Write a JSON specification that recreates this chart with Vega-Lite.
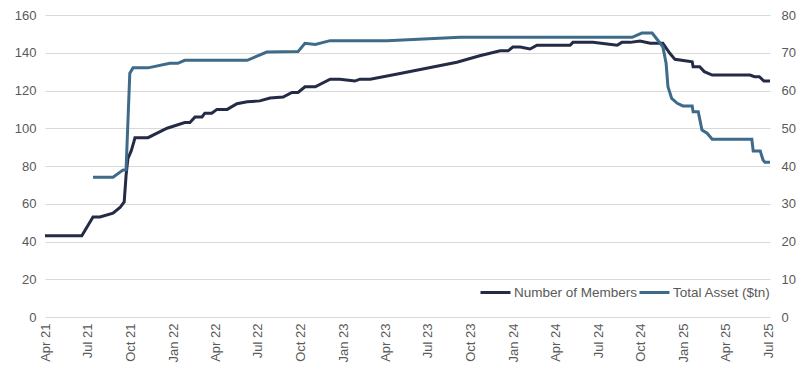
{
  "$schema": "https://vega.github.io/schema/vega-lite/v6.json",
  "width": 725,
  "height": 302,
  "autosize": {"type": "none"},
  "padding": {"left": 45, "top": 15, "right": 35, "bottom": 71},
  "background": "white",
  "config": {
    "view": {"stroke": null},
    "font": "Liberation Sans",
    "axis": {"labelFont": "Liberation Sans", "labelFontSize": 13, "labelColor": "#595959", "domain": false, "ticks": false, "title": null, "gridColor": "#D9D9D9", "gridWidth": 1.2},
    "legend": {"labelFont": "Liberation Sans", "labelFontSize": 13.5, "labelColor": "#595959"}
  },
  "data": {"values": [
    {"d": "2021-04-01", "s": "Number of Members", "v": 43},
    {"d": "2021-06-19", "s": "Number of Members", "v": 43},
    {"d": "2021-07-13", "s": "Number of Members", "v": 53},
    {"d": "2021-07-28", "s": "Number of Members", "v": 53},
    {"d": "2021-08-25", "s": "Number of Members", "v": 55},
    {"d": "2021-09-09", "s": "Number of Members", "v": 58},
    {"d": "2021-09-18", "s": "Number of Members", "v": 61},
    {"d": "2021-09-22", "s": "Number of Members", "v": 75},
    {"d": "2021-09-26", "s": "Number of Members", "v": 84},
    {"d": "2021-10-03", "s": "Number of Members", "v": 88},
    {"d": "2021-10-09", "s": "Number of Members", "v": 93},
    {"d": "2021-10-11", "s": "Number of Members", "v": 95},
    {"d": "2021-11-08", "s": "Number of Members", "v": 95},
    {"d": "2021-12-19", "s": "Number of Members", "v": 100},
    {"d": "2022-01-26", "s": "Number of Members", "v": 103},
    {"d": "2022-02-06", "s": "Number of Members", "v": 103},
    {"d": "2022-02-17", "s": "Number of Members", "v": 106},
    {"d": "2022-03-04", "s": "Number of Members", "v": 106},
    {"d": "2022-03-10", "s": "Number of Members", "v": 108},
    {"d": "2022-03-25", "s": "Number of Members", "v": 108},
    {"d": "2022-04-05", "s": "Number of Members", "v": 110},
    {"d": "2022-04-27", "s": "Number of Members", "v": 110},
    {"d": "2022-05-18", "s": "Number of Members", "v": 113},
    {"d": "2022-06-09", "s": "Number of Members", "v": 114},
    {"d": "2022-07-06", "s": "Number of Members", "v": 114.5},
    {"d": "2022-07-28", "s": "Number of Members", "v": 116},
    {"d": "2022-08-25", "s": "Number of Members", "v": 116.5},
    {"d": "2022-09-13", "s": "Number of Members", "v": 119},
    {"d": "2022-09-26", "s": "Number of Members", "v": 119},
    {"d": "2022-10-11", "s": "Number of Members", "v": 122},
    {"d": "2022-11-02", "s": "Number of Members", "v": 122},
    {"d": "2022-12-04", "s": "Number of Members", "v": 126},
    {"d": "2022-12-25", "s": "Number of Members", "v": 126},
    {"d": "2023-01-26", "s": "Number of Members", "v": 125},
    {"d": "2023-02-06", "s": "Number of Members", "v": 126},
    {"d": "2023-02-28", "s": "Number of Members", "v": 126},
    {"d": "2023-05-03", "s": "Number of Members", "v": 129},
    {"d": "2023-09-02", "s": "Number of Members", "v": 135},
    {"d": "2023-10-21", "s": "Number of Members", "v": 138.4},
    {"d": "2023-12-04", "s": "Number of Members", "v": 141},
    {"d": "2023-12-21", "s": "Number of Members", "v": 141},
    {"d": "2023-12-31", "s": "Number of Members", "v": 143},
    {"d": "2024-01-16", "s": "Number of Members", "v": 143},
    {"d": "2024-02-06", "s": "Number of Members", "v": 142},
    {"d": "2024-02-21", "s": "Number of Members", "v": 144},
    {"d": "2024-05-02", "s": "Number of Members", "v": 144},
    {"d": "2024-05-08", "s": "Number of Members", "v": 145.5},
    {"d": "2024-06-20", "s": "Number of Members", "v": 145.5},
    {"d": "2024-08-11", "s": "Number of Members", "v": 144},
    {"d": "2024-08-21", "s": "Number of Members", "v": 145.5},
    {"d": "2024-09-08", "s": "Number of Members", "v": 145.5},
    {"d": "2024-09-29", "s": "Number of Members", "v": 146.2},
    {"d": "2024-10-21", "s": "Number of Members", "v": 145},
    {"d": "2024-11-17", "s": "Number of Members", "v": 145},
    {"d": "2024-12-02", "s": "Number of Members", "v": 139.7},
    {"d": "2024-12-13", "s": "Number of Members", "v": 136.5},
    {"d": "2025-01-19", "s": "Number of Members", "v": 135.2},
    {"d": "2025-01-21", "s": "Number of Members", "v": 132.6},
    {"d": "2025-02-04", "s": "Number of Members", "v": 132.6},
    {"d": "2025-02-14", "s": "Number of Members", "v": 130},
    {"d": "2025-03-03", "s": "Number of Members", "v": 128.2},
    {"d": "2025-05-23", "s": "Number of Members", "v": 128.2},
    {"d": "2025-06-02", "s": "Number of Members", "v": 127.3},
    {"d": "2025-06-12", "s": "Number of Members", "v": 127.3},
    {"d": "2025-06-22", "s": "Number of Members", "v": 125},
    {"d": "2025-07-05", "s": "Number of Members", "v": 125},
    {"d": "2021-07-13", "s": "Total Asset ($tn)", "v": 37},
    {"d": "2021-08-25", "s": "Total Asset ($tn)", "v": 37},
    {"d": "2021-09-15", "s": "Total Asset ($tn)", "v": 38.9},
    {"d": "2021-09-22", "s": "Total Asset ($tn)", "v": 39},
    {"d": "2021-09-30", "s": "Total Asset ($tn)", "v": 64.6},
    {"d": "2021-10-07", "s": "Total Asset ($tn)", "v": 66},
    {"d": "2021-11-08", "s": "Total Asset ($tn)", "v": 66},
    {"d": "2021-12-25", "s": "Total Asset ($tn)", "v": 67.2},
    {"d": "2022-01-11", "s": "Total Asset ($tn)", "v": 67.2},
    {"d": "2022-01-26", "s": "Total Asset ($tn)", "v": 68},
    {"d": "2022-06-09", "s": "Total Asset ($tn)", "v": 68},
    {"d": "2022-07-21", "s": "Total Asset ($tn)", "v": 70.2},
    {"d": "2022-09-26", "s": "Total Asset ($tn)", "v": 70.3},
    {"d": "2022-10-11", "s": "Total Asset ($tn)", "v": 72.5},
    {"d": "2022-11-02", "s": "Total Asset ($tn)", "v": 72.2},
    {"d": "2022-12-04", "s": "Total Asset ($tn)", "v": 73.2},
    {"d": "2023-04-05", "s": "Total Asset ($tn)", "v": 73.2},
    {"d": "2023-09-09", "s": "Total Asset ($tn)", "v": 74.1},
    {"d": "2024-09-12", "s": "Total Asset ($tn)", "v": 74.1},
    {"d": "2024-10-03", "s": "Total Asset ($tn)", "v": 75.2},
    {"d": "2024-10-25", "s": "Total Asset ($tn)", "v": 75.2},
    {"d": "2024-11-05", "s": "Total Asset ($tn)", "v": 73.5},
    {"d": "2024-11-17", "s": "Total Asset ($tn)", "v": 71.6},
    {"d": "2024-11-24", "s": "Total Asset ($tn)", "v": 67.2},
    {"d": "2024-11-28", "s": "Total Asset ($tn)", "v": 61},
    {"d": "2024-12-06", "s": "Total Asset ($tn)", "v": 57.9},
    {"d": "2024-12-18", "s": "Total Asset ($tn)", "v": 56.6},
    {"d": "2024-12-30", "s": "Total Asset ($tn)", "v": 55.9},
    {"d": "2025-01-19", "s": "Total Asset ($tn)", "v": 55.9},
    {"d": "2025-01-21", "s": "Total Asset ($tn)", "v": 54.4},
    {"d": "2025-02-01", "s": "Total Asset ($tn)", "v": 54.4},
    {"d": "2025-02-09", "s": "Total Asset ($tn)", "v": 49.5},
    {"d": "2025-02-20", "s": "Total Asset ($tn)", "v": 48.7},
    {"d": "2025-03-03", "s": "Total Asset ($tn)", "v": 47.1},
    {"d": "2025-05-27", "s": "Total Asset ($tn)", "v": 47.1},
    {"d": "2025-05-30", "s": "Total Asset ($tn)", "v": 44},
    {"d": "2025-06-14", "s": "Total Asset ($tn)", "v": 44},
    {"d": "2025-06-20", "s": "Total Asset ($tn)", "v": 41.6},
    {"d": "2025-06-24", "s": "Total Asset ($tn)", "v": 41},
    {"d": "2025-07-05", "s": "Total Asset ($tn)", "v": 41}
  ]},
  "encoding": {
    "x": {
      "field": "d", "type": "temporal",
      "scale": {"type": "utc", "domain": [{"year": 2021, "month": 4, "date": 1, "utc": true}, {"year": 2025, "month": 7, "date": 5, "utc": true}]},
      "axis": {"labelExpr": "utcFormat(datum.value, '%b %y')", "tickCount": {"interval": "month", "step": 3}, "labelAngle": 270, "labelPadding": 6, "grid": false, "labelOverlap": false, "labelFlush": false}
    },
    "color": {
      "field": "s", "type": "nominal",
      "scale": {"domain": ["Number of Members", "Total Asset ($tn)"], "range": ["#242B46", "#3F6B8A"]},
      "legend": {"title": null, "orient": "none", "legendX": 434, "legendY": 261, "direction": "horizontal", "symbolType": "stroke", "symbolSize": 900, "symbolStrokeWidth": 3, "labelOffset": 2, "columnPadding": -5}
    }
  },
  "layer": [
    {
      "transform": [{"filter": "datum.s === 'Number of Members'"}],
      "mark": {"type": "line", "strokeWidth": 3},
      "encoding": {
        "y": {"field": "v", "type": "quantitative", "scale": {"domain": [0, 160]}, "axis": {"orient": "left", "values": [0, 20, 40, 60, 80, 100, 120, 140, 160], "labelPadding": 9, "grid": true}}
      }
    },
    {
      "transform": [{"filter": "datum.s === 'Total Asset ($tn)'"}],
      "mark": {"type": "line", "strokeWidth": 3},
      "encoding": {
        "y": {"field": "v", "type": "quantitative", "scale": {"domain": [0, 80]}, "axis": {"orient": "right", "values": [0, 10, 20, 30, 40, 50, 60, 70, 80], "labelPadding": 11, "grid": false}}
      }
    }
  ],
  "resolve": {"scale": {"y": "independent"}}
}
